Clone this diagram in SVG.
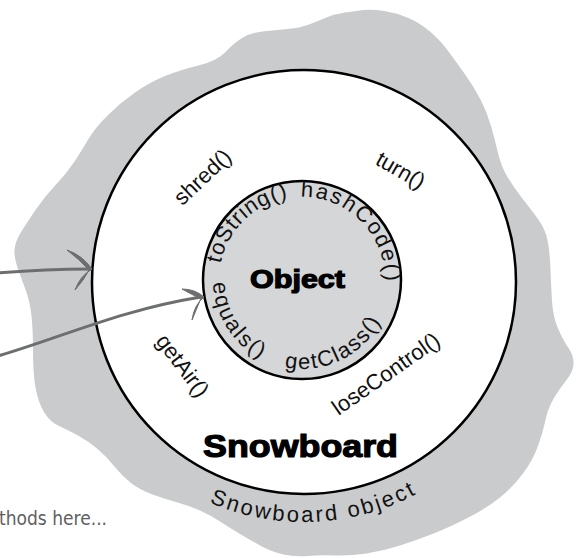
<svg xmlns="http://www.w3.org/2000/svg" width="577" height="558" viewBox="0 0 577 558">
<style>
.lbl{font-family:"Liberation Sans",Arial,sans-serif;font-size:22px;fill:#111}
.big{font-family:"Liberation Sans",Arial,sans-serif;font-weight:bold;fill:#000;stroke:#000;stroke-width:1.2}
.note{font-family:"Liberation Sans Narrow","DejaVu Sans Condensed",sans-serif;font-size:19px;fill:#5f6062}
.arr{fill:none;stroke:#6d6e70;stroke-width:3;stroke-linecap:round}
.barb{fill:#6d6e70;stroke:#6d6e70;stroke-width:1;stroke-linejoin:round}
</style>
<defs>
<path id="pCW" d="M 230.12,321.5 A 83 83 0 1 1 373.88,238.5 A 83 83 0 1 1 230.12,321.5"/>
<path id="pCCW" d="M 224.92,235.5 A 89 89 0 1 0 379.08,324.5 A 89 89 0 1 0 224.92,235.5"/>
<path id="pSO" d="M 96.15,402 A 240 240 0 0 0 529.5,364.1"/>
</defs>
<g id="snowboard-object">
<path fill="#cacbcd" d="M 165,76 Q 180,70 198.5,65.5 Q 217,61 225.5,52 Q 234,43 242,38 Q 250,33 262.5,31.5 Q 275,30 287.5,29 Q 300,28 309,24.5 Q 318,21 326.5,17.5 Q 335,14 345,12.5 Q 355,11 363.5,10 Q 372,9 384.5,11 Q 397,13 408.5,18 Q 420,23 430,31.5 Q 440,40 448.5,51.5 Q 457,63 465.5,75 Q 474,87 480.5,99.5 Q 487,112 491,126 Q 495,140 498,153 Q 501,166 507.5,177 Q 514,188 522,198 Q 530,208 538,219 Q 546,230 548,242.5 Q 550,255 550.5,270 Q 551,285 552,301 Q 553,317 558,328.5 Q 563,340 568.5,348 Q 574,356 573.5,364 Q 573,372 566.5,380 Q 560,388 554,398 Q 548,408 545.5,420 Q 543,432 538,446 Q 533,460 523,473.5 Q 513,487 500,497.5 Q 487,508 468.5,517.5 Q 450,527 433.5,533.5 Q 417,540 400,545.5 Q 383,551 366.5,553.5 Q 350,556 335,555.5 Q 320,555 307.5,556 Q 295,557 283.5,554.5 Q 272,552 261,546 Q 250,540 240,534 Q 230,528 220,521.5 Q 210,515 200,510.5 Q 190,506 177.5,502.5 Q 165,499 152.5,494.5 Q 140,490 131,483 Q 122,476 114,466 Q 106,456 97,448.5 Q 88,441 78,435.5 Q 68,430 59,426 Q 50,422 44,412 Q 38,402 35.5,387.5 Q 33,373 33,351.5 Q 33,330 31.5,316 Q 30,302 26,291 Q 22,280 18,269 Q 14,258 14.5,250 Q 15,242 20.5,233 Q 26,224 35.5,210 Q 45,196 56,184.5 Q 67,173 74.5,161.5 Q 82,150 88.5,139 Q 95,128 107.5,115.5 Q 120,103 135,92.5 Q 150,82 165,76 Z"/>
<text class="lbl" font-size="24" letter-spacing="2.5"><textPath href="#pSO" startOffset="262" text-anchor="middle">Snowboard object</textPath></text>
</g>
<g id="snowboard">
<circle cx="304" cy="282" r="212" fill="#fff" stroke="#000" stroke-width="2.5"/>
<text class="lbl" transform="translate(207.6,182.4) rotate(-43.4)" text-anchor="middle">shred()</text>
<text class="lbl" transform="translate(397,176.7) rotate(29.6)" text-anchor="middle">turn()</text>
<text class="lbl" transform="translate(176.7,370.1) rotate(53)" text-anchor="middle">getAir()</text>
<text class="lbl" transform="translate(390.2,379.8) rotate(-35)" text-anchor="middle">loseControl()</text>
<text class="big" x="203" y="457" font-size="32" textLength="195" lengthAdjust="spacingAndGlyphs">Snowboard</text>
</g>
<g id="object">
<circle cx="302" cy="280" r="99" fill="#d5d6d8" stroke="#000" stroke-width="2.5"/>
<text class="lbl" letter-spacing="1"><textPath href="#pCW" startOffset="110.1" text-anchor="middle">toString()</textPath></text>
<text class="lbl" letter-spacing="2"><textPath href="#pCW" startOffset="239.7" text-anchor="middle">hashCode()</textPath></text>
<text class="lbl" letter-spacing="2"><textPath href="#pCCW" startOffset="97.1" text-anchor="middle">equals()</textPath></text>
<text class="lbl" letter-spacing="1.5"><textPath href="#pCCW" startOffset="226.4" text-anchor="middle">getClass()</textPath></text>
<text class="big" x="250" y="287.5" font-size="25" textLength="95" lengthAdjust="spacingAndGlyphs">Object</text>
</g>
<g id="connectors">
<path class="arr" d="M -2,273 Q 45,269 90,269"/>
<path class="barb" d="M 92,269 Q 82,255 67,250 Q 79,259 89,270 Z"/>
<path class="barb" d="M 92,269 Q 80,276 75,290 Q 84,280 89,270 Z"/>
<path class="arr" d="M -2,356 C 60,338 120,310 201,297"/>
<path class="barb" d="M 204,297 Q 195,289 182,289 Q 191,294 200,298.5 Z"/>
<path class="barb" d="M 204,297 Q 194,305 192,320 Q 197,308 201,298 Z"/>
</g>
<g id="note">
<text class="note" x="-1" y="525" textLength="108" lengthAdjust="spacingAndGlyphs">thods here...</text>
</g>
</svg>
